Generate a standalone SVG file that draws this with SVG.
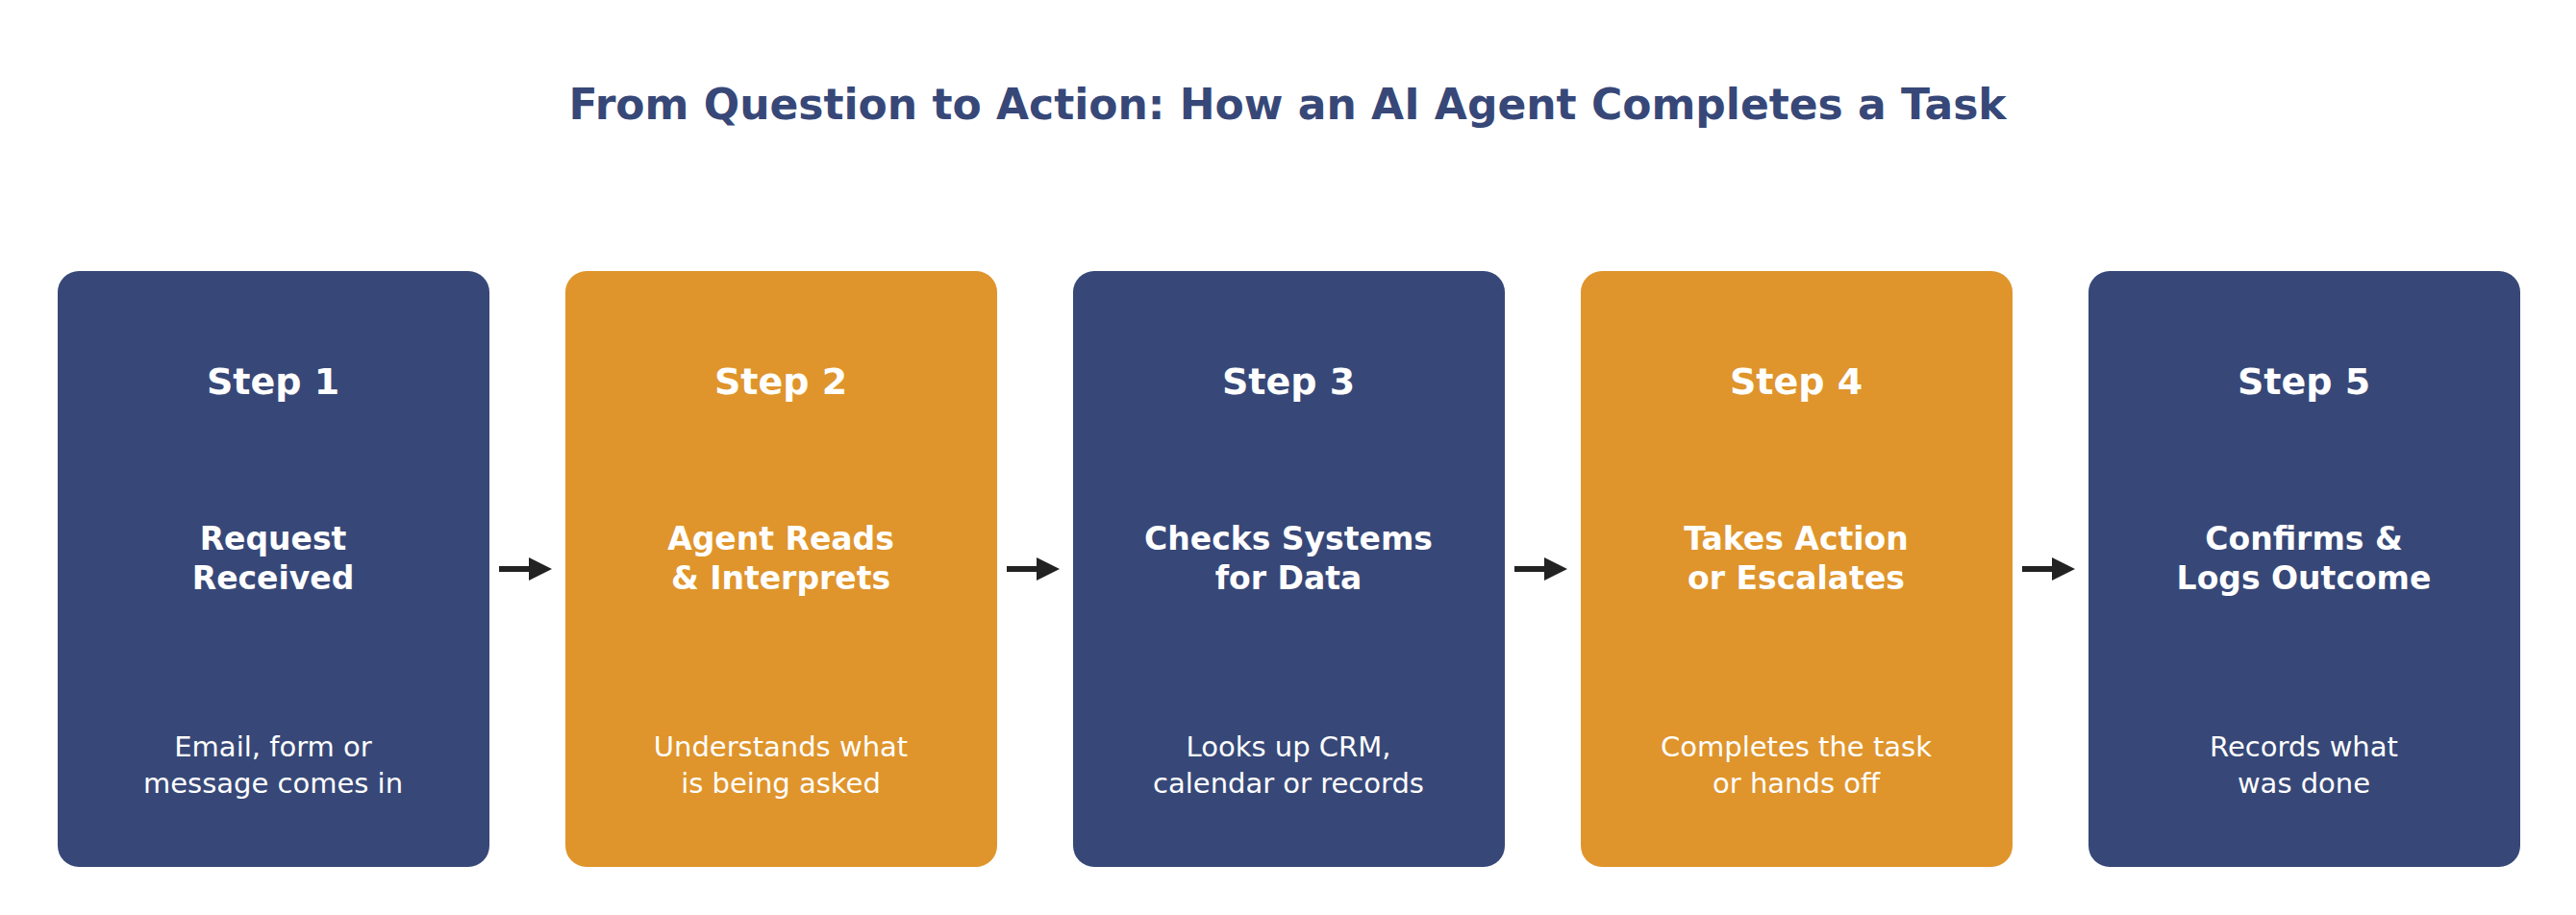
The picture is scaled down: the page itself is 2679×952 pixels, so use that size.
<svg xmlns="http://www.w3.org/2000/svg" width="2679" height="952" viewBox="0 0 2679 952">
<style>
text{font-family:"DejaVu Sans","Noto Sans",sans-serif;text-anchor:middle;fill:#fff}
.t{fill:#374878;font-size:44px;font-weight:bold}
.s{font-size:38px;font-weight:bold}
.h{font-size:33px;font-weight:bold}
.d{font-size:29px}
.n{fill:#374878}.o{fill:#DF952C}
.c{stroke:#222;stroke-width:6;fill:none}
</style>
<defs><marker id="a" markerWidth="4" markerHeight="4" refX="2" refY="2" orient="auto"><path d="M0,0L4,2L0,4Z" fill="#222"/></marker></defs>
<rect width="2679" height="952" fill="#fff"/>
<text class="t" x="1339" y="124">From Question to Action: How an AI Agent Completes a Task</text>
<g id="step1"><rect class="n" x="60" y="282" width="449" height="620" rx="22"/><text class="s" x="284" y="410">Step 1</text><text class="h" x="284" y="572">Request</text><text class="h" x="284" y="613">Received</text><text class="d" x="284" y="787">Email, form or</text><text class="d" x="284" y="825">message comes in</text></g>
<g id="step2"><rect class="o" x="588" y="282" width="449" height="620" rx="22"/><text class="s" x="812" y="410">Step 2</text><text class="h" x="812" y="572">Agent Reads</text><text class="h" x="812" y="613">&amp; Interprets</text><text class="d" x="812" y="787">Understands what</text><text class="d" x="812" y="825">is being asked</text></g>
<g id="step3"><rect class="n" x="1116" y="282" width="449" height="620" rx="22"/><text class="s" x="1340" y="410">Step 3</text><text class="h" x="1340" y="572">Checks Systems</text><text class="h" x="1340" y="613">for Data</text><text class="d" x="1340" y="787">Looks up CRM,</text><text class="d" x="1340" y="825">calendar or records</text></g>
<g id="step4"><rect class="o" x="1644" y="282" width="449" height="620" rx="22"/><text class="s" x="1868" y="410">Step 4</text><text class="h" x="1868" y="572">Takes Action</text><text class="h" x="1868" y="613">or Escalates</text><text class="d" x="1868" y="787">Completes the task</text><text class="d" x="1868" y="825">or hands off</text></g>
<g id="step5"><rect class="n" x="2172" y="282" width="449" height="620" rx="22"/><text class="s" x="2396" y="410">Step 5</text><text class="h" x="2396" y="572">Confirms &amp;</text><text class="h" x="2396" y="613">Logs Outcome</text><text class="d" x="2396" y="787">Records what</text><text class="d" x="2396" y="825">was done</text></g>
<g id="connectors">
<path class="c" d="M519,592H562" marker-end="url(#a)"/>
<path class="c" d="M1047,592H1090" marker-end="url(#a)"/>
<path class="c" d="M1575,592H1618" marker-end="url(#a)"/>
<path class="c" d="M2103,592H2146" marker-end="url(#a)"/>
</g>
</svg>
